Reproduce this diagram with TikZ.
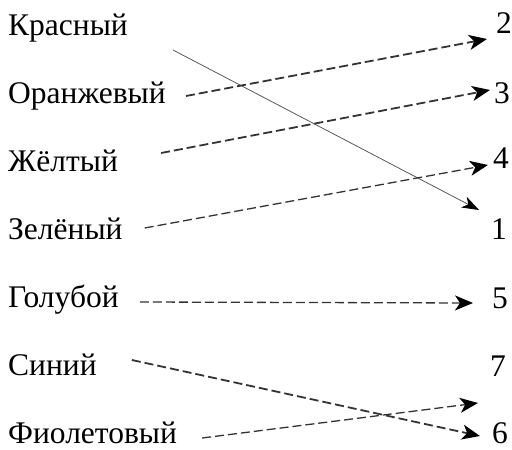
\documentclass[tikz,border=0pt]{standalone}
\usepackage{fontspec}
\setmainfont{Liberation Serif}
\usetikzlibrary{arrows.meta}

\tikzset{
    word/.style={anchor=base west, inner sep=0pt, font=\fontsize{31.5}{36}\selectfont},
    num/.style={anchor=base, inner sep=0pt, font=\fontsize{31.5}{36}\selectfont},
    link/.style={-{Stealth[length=18pt, width=15pt, inset=5pt, color=black]}, black!80,
        line width=1.8pt, dash pattern=on 9pt off 4pt},
    thinlink/.style={-{Stealth[length=17pt, width=12pt, inset=5pt, color=black]}, black!65,
        line width=0.8pt}
}

\begin{document}
\begin{tikzpicture}[x=1pt, y=-1pt]
    \useasboundingbox (0, 0) rectangle (512, 450);

    % цвета слева
    \foreach \n/\t [count=\i from 0] in {kr/Красный, or/Оранжевый, zh/Жёлтый,
        ze/Зелёный, go/Голубой, si/Синий, fi/Фиолетовый} {
        \node[word] (\n) at (8, {35 + 68*\i}) {\t};
    }

    % номера справа
    \node[num] (n2) at (504, 33) {2};
    \node[num] (n3) at (502, 103) {3};
    \node[num] (n4) at (501, 168) {4};
    \node[num] (n1) at (499, 239) {1};
    \node[num] (n5) at (500, 308) {5};
    \node[num] (n7) at (498, 376) {7};
    \node[num] (n6) at (500, 443) {6};

    % стрелки
    \draw[thinlink] ([shift={(45, 15)}]kr.base east) -- ([shift={(-20, -29)}]n1.base);
    \draw[link] ([shift={(20, -7)}]or.base east) -- ([shift={(-17, 6)}]n2.base);
    \draw[link] ([shift={(43, -18)}]zh.base east) -- ([shift={(-12, -13)}]n3.base);
    \draw[link, line width=1.3pt] ([shift={(22, -11)}]ze.base east) -- ([shift={(-13, -3)}]n4.base);
    \draw[link, line width=1.3pt] ([shift={(21, -5)}]go.base east) -- ([shift={(-27, -5)}]n5.base);
    \draw[link] ([shift={(35, -15)}]si.base east) -- ([shift={(-20, -7)}]n6.base);
    \draw[link, line width=1.3pt] ([shift={(25, -5)}]fi.base east) -- ([shift={(-20, 27)}]n7.base);
\end{tikzpicture}
\end{document}
